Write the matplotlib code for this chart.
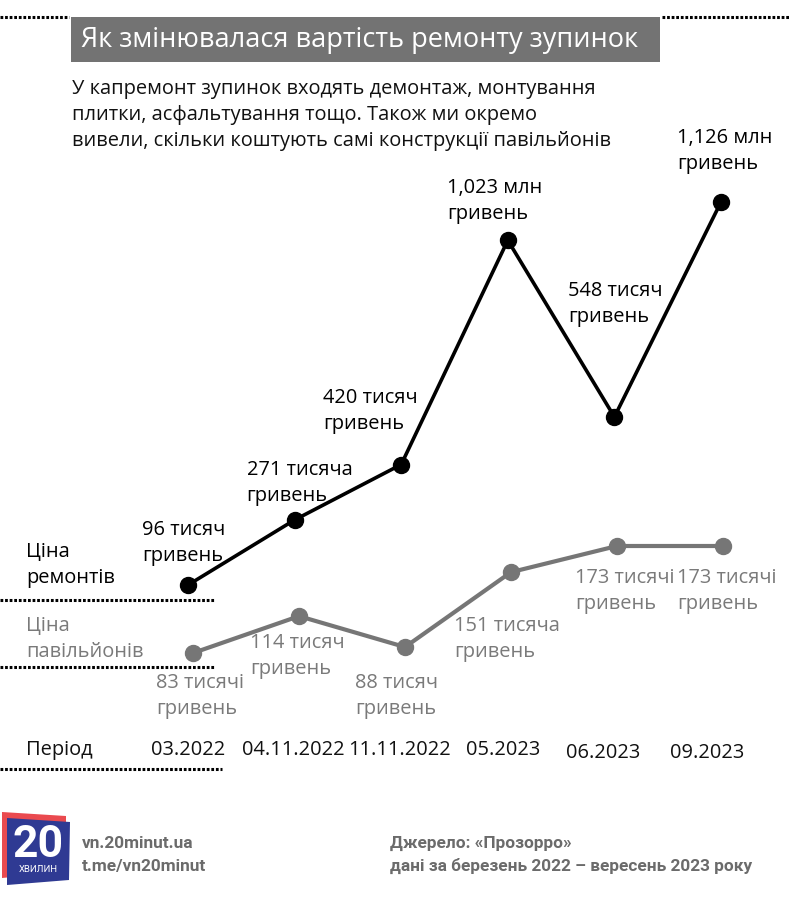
import matplotlib
matplotlib.use('Agg')
import matplotlib.pyplot as plt
from matplotlib.lines import Line2D
from matplotlib.patches import Polygon, Rectangle

# дані
periods = ['03.2022', '04.11.2022', '11.11.2022', '05.2023', '06.2023', '09.2023']
repair_k = [96, 271, 420, 1023, 548, 1126]      # тис. грн
pavilion_k = [83, 114, 88, 151, 173, 173]       # тис. грн
repair_labels = ['96 тисяч\nгривень', '271 тисяча\nгривень', '420 тисяч\nгривень',
                 '1,023 млн\nгривень', '548 тисяч\nгривень', '1,126 млн\nгривень']
pavilion_labels = ['83 тисячі\nгривень', '114 тисяч\nгривень', '88 тисяч\nгривень',
                   '151 тисяча\nгривень', '173 тисячі\nгривень', '173 тисячі\nгривень']

# розміщення підписів (пікселі відносно точки)
repair_off = [(-46, 42), (-48, 37), (-78, 54), (-61, 39), (-46, 113), (-44, 51)]
pavilion_off = [(-37, -43), (-49, -40), (-50, -49), (-57, -67), (-42, -45), (-46, -45)]
tick_x = [188, 293, 400, 503, 603, 707]
tick_y = [750, 750, 750, 750, 753, 753]

W, H = 790, 905
BLACK = '#000000'
GREY = '#767676'
GREY_TXT = '#7a7a7a'
FONT = 'Open Sans'
FS = 14.4
LS = 1.4

plt.rcParams['font.family'] = [FONT, 'DejaVu Sans']

fig = plt.figure(figsize=(W / 100, H / 100), dpi=100)


def fx(x):
    return x / W


def fy(y):
    return 1 - y / H


def dotted(x0, x1, y):
    fig.add_artist(Line2D([fx(x0), fx(x1)], [fy(y), fy(y)], color='black',
                          lw=2.2, dashes=(0.9, 0.6), solid_capstyle='butt'))


# заголовок
fig.add_artist(Rectangle((fx(71), fy(62)), fx(660) - fx(71), fy(17) - fy(62),
                         facecolor='#737373', edgecolor='none'))
fig.text(fx(81), fy(40), 'Як змінювалася вартість ремонту зупинок', color='white',
         fontsize=19.5, va='center', ha='left')
dotted(0, 69, 17)
dotted(662, 790, 17)

fig.text(fx(72), fy(115), 'У капремонт зупинок входять демонтаж, монтування\n'
         'плитки, асфальтування тощо. Також ми окремо\n'
         'вивели, скільки коштують самі конструкції павільйонів',
         fontsize=FS, va='center', ha='left', linespacing=LS, color='#111111')

# ціна ремонтів
ax1 = fig.add_axes([fx(188), fy(585), fx(721) - fx(188), fy(202) - fy(585)])
ax1.set_xlim(0, len(periods) - 1)
ax1.set_ylim(min(repair_k), max(repair_k))
ax1.axis('off')
ax1.plot(range(len(periods)), repair_k, color=BLACK, lw=2.6, marker='o',
         markersize=11.5, clip_on=False, zorder=3)
for i, (v, lab) in enumerate(zip(repair_k, repair_labels)):
    ax1.annotate(lab, (i, v), xytext=repair_off[i], textcoords='offset pixels',
                 ha='left', va='center', fontsize=FS, linespacing=LS, color=BLACK)

# ціна павільйонів
ax2 = fig.add_axes([fx(193), fy(653), fx(723) - fx(193), fy(546) - fy(653)])
ax2.set_xlim(0, len(periods) - 1)
ax2.set_ylim(min(pavilion_k), max(pavilion_k))
ax2.axis('off')
ax2.plot(range(len(periods)), pavilion_k, color=GREY, lw=3.0, marker='o',
         markersize=11.5, clip_on=False, zorder=3)
for i, (v, lab) in enumerate(zip(pavilion_k, pavilion_labels)):
    ax2.annotate(lab, (i, v), xytext=pavilion_off[i], textcoords='offset pixels',
                 ha='left', va='center', fontsize=FS, linespacing=LS, color=GREY_TXT)

# легенда зліва
fig.text(fx(26), fy(565), 'Ціна\nремонтів', fontsize=FS, va='center', ha='left',
         linespacing=LS, color=BLACK)
dotted(0, 215, 600)
fig.text(fx(26), fy(639), 'Ціна\nпавільйонів', fontsize=FS, va='center', ha='left',
         linespacing=LS, color=GREY_TXT)
dotted(0, 215, 667)
fig.text(fx(26), fy(750), 'Період', fontsize=FS, va='center', ha='left', color='#111111')
dotted(0, 222, 769)

for p, x, y in zip(periods, tick_x, tick_y):
    fig.text(fx(x), fy(y), p, fontsize=FS, va='center', ha='center', color='#111111')

# логотип
fig.add_artist(Polygon([(fx(2), fy(812)), (fx(66), fy(816)), (fx(66), fy(872)), (fx(2), fy(878))],
                       closed=True, facecolor='#ea4a4f', edgecolor='none'))
fig.add_artist(Polygon([(fx(7), fy(818)), (fx(70), fy(822)), (fx(69), fy(880)), (fx(7), fy(885))],
                       closed=True, facecolor='#2f3a93', edgecolor='none'))
fig.text(fx(38), fy(845), '20', fontsize=32, fontweight='bold', color='white',
         ha='center', va='center', family='Roboto')
fig.text(fx(38), fy(869), 'ХВИЛИН', fontsize=6.8, color='white',
         ha='center', va='center', family='Roboto')

FOOT = '#6b6b6b'
FFS = 12.4
fig.text(fx(82), fy(843), 'vn.20minut.ua', fontsize=FFS, fontweight='bold', color=FOOT,
         ha='left', va='center', family='Roboto')
fig.text(fx(82), fy(866), 't.me/vn20minut', fontsize=FFS, fontweight='bold', color=FOOT,
         ha='left', va='center', family='Roboto')
fig.text(fx(390), fy(843), 'Джерело: «Прозорро»', fontsize=FFS, fontweight='bold',
         color=FOOT, ha='left', va='center', family='Roboto')
fig.text(fx(390), fy(866), 'дані за березень 2022 – вересень 2023 року', fontsize=FFS,
         fontweight='bold', color=FOOT, ha='left', va='center', family='Roboto')

fig.savefig('out.png', dpi=100)
